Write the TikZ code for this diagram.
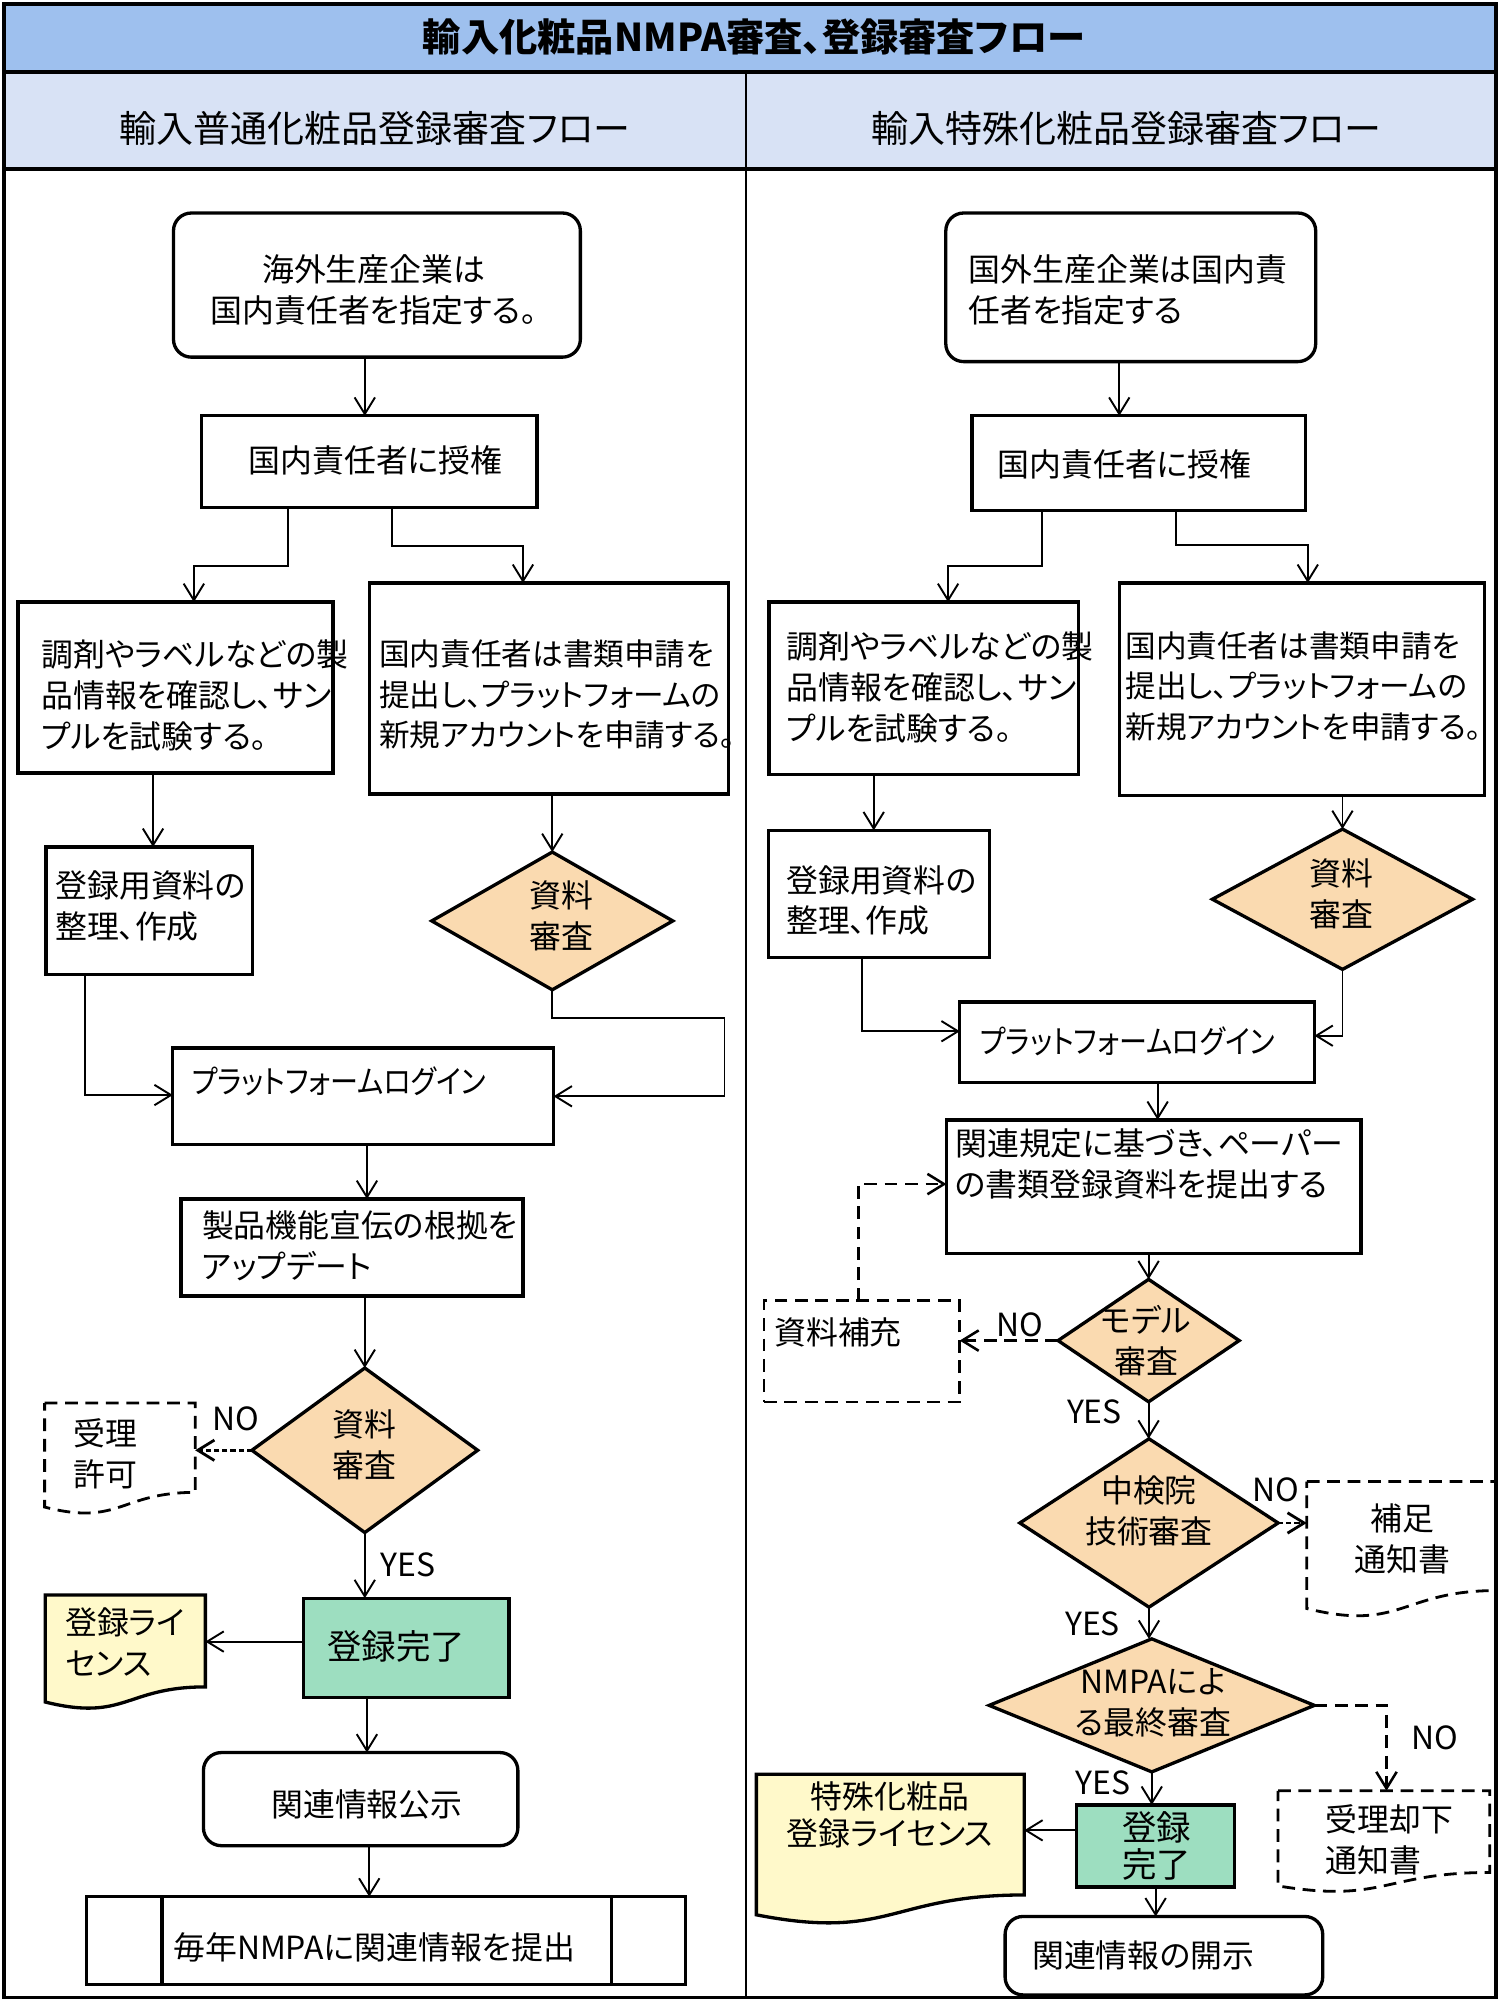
\documentclass[tikz,border=0pt]{standalone}
\usepackage{fontspec}
\setmainfont{Noto Sans CJK JP}[RawFeature=+palt]
\newfontfamily\narrowjp{Noto Sans CJK JP}[RawFeature=+palt, FakeStretch=0.88]
\usetikzlibrary{arrows.meta,shapes.geometric,calc}
\definecolor{titlebg}{RGB}{158,192,238}
\definecolor{headbg}{RGB}{216,226,245}
\definecolor{diafill}{RGB}{250,218,176}
\definecolor{greenfill}{RGB}{157,222,192}
\definecolor{docyellow}{RGB}{255,249,202}
\newcommand\mydocshape[2]{\path[#1] (#2.north west) -- (#2.north east) -- ($(#2.north east)!0.802!(#2.south east)$) .. controls ($(#2.north)!0.802!(#2.south)$) and ($(#2.north)!1.1075!(#2.south)$) .. ($(#2.north west)!0.934!(#2.south west)$) -- cycle;}
\tikzset{
  txt/.style={font=\fontsize{12.5pt}{16pt}\selectfont, inner sep=0pt},
  ltxt/.style={txt, align=left, anchor=west},
  ctxt/.style={txt, align=center},
  shp/.style={inner sep=0pt, outer sep=0pt, line width=1.3pt},
  boxs/.style={shp, draw, rectangle},
  rboxs/.style={boxs, rounded corners=7pt},
  dias/.style={shp, draw, diamond, fill=diafill},
  geo/.style={inner sep=0pt, outer sep=0pt, rectangle},
  dashbox/.style={line width=1.1pt, dash pattern=on 5pt off 3pt},
  arr/.style={line width=0.75pt, -{Straight Barb[length=6.5pt,width=8pt]}},
  darr/.style={arr, line width=1pt, dash pattern=on 5pt off 3pt},
  sarr/.style={arr, line width=1.1pt, dash pattern=on 2pt off 1.2pt},
  lab/.style={txt},
  smalltxt/.style={font=\fontsize{12pt}{16pt}\selectfont},
  narrowtxt/.style={font=\fontsize{12.5pt}{16pt}\narrowjp},
}
\begin{document}
\begin{tikzpicture}[x=0.5pt,y=-0.5pt]
\useasboundingbox (0,0) rectangle (1176,1568);
% frame and headers
\fill[titlebg] (3,3) rectangle (1173,56.5);
\fill[headbg] (3,56.5) rectangle (1173,132.5);
\draw[line width=1.5pt] (3,3) rectangle (1173,1566);
\draw[line width=1.5pt] (3,56.5) -- (1173,56.5);
\draw[line width=1.5pt] (3,132.5) -- (1173,132.5);
\draw[line width=1pt] (585,56.5) -- (585,1566);
\node[inner sep=0pt, font=\fontsize{15pt}{18pt}\selectfont\bfseries] (title) at (591,29) {輸入化粧品NMPA審査、登録審査フロー};
\node[inner sep=0pt, font=\fontsize{14.5pt}{18pt}\selectfont] (hl) at (294,101) {輸入普通化粧品登録審査フロー};
\node[inner sep=0pt, font=\fontsize{14.5pt}{18pt}\selectfont] (hr) at (883,101) {輸入特殊化粧品登録審査フロー};

% ---------------- left column ----------------
\node[rboxs, minimum width=159.5pt, minimum height=56.5pt] (L1) at (295.5,223.5) {};
\node[ctxt] (L1t) at (293,227) {海外生産企業は\\国内責任者を指定する。};
\node[boxs, minimum width=131.5pt, minimum height=36pt] (L2) at (289.5,362) {};
\node[ctxt] (L2t) at (294.5,361) {国内責任者に授権};
\node[boxs, minimum width=123.5pt, minimum height=67pt] (L3) at (137.5,539) {};
\node[ltxt] (L3t) at (32,545) {調剤やラベルなどの製\\品情報を確認し、サン\\プルを試験する。};
\node[boxs, minimum width=140.75pt, minimum height=82.75pt] (L4) at (430.25,539.75) {};
\node[ltxt, smalltxt] (L4t) at (297,544.5) {国内責任者は書類申請を\\提出し、プラットフォームの\\新規アカウントを申請する。};
\node[boxs, minimum width=81pt, minimum height=50pt] (L5) at (117,714) {};
\node[ltxt] (L5t) at (43,710) {登録用資料の\\整理、作成};
\node[dias, minimum width=94.5pt, minimum height=54pt] (L6) at (433,722) {};
\node[ctxt] (L6t) at (440,718) {資料\\審査};
\node[boxs, minimum width=149.25pt, minimum height=38pt] (L7) at (284.75,859.5) {};
\node[ltxt, narrowtxt] (L7t) at (150,848) {プラットフォームログイン};
\node[boxs, minimum width=134pt, minimum height=38pt] (L8) at (276,978) {};
\node[ltxt] (L8t) at (158,977) {製品機能宣伝の根拠を\\アップデート};
\node[dias, minimum width=88.5pt, minimum height=64.5pt] (L9) at (286,1137) {};
\node[ctxt] (L9t) at (286,1132.5) {資料\\審査};
\node[geo, minimum width=59pt, minimum height=43.65pt] (L10) at (94,1143.65) {};
\mydocshape{draw, dashbox}{L10}
\node[ltxt] (L10t) at (57,1140) {受理\\許可};
\node[boxs, fill=greenfill, minimum width=80.5pt, minimum height=39pt] (L11) at (318.5,1292) {};
\node[ctxt, font=\fontsize{13.5pt}{16pt}\selectfont] (L11t) at (310.5,1291) {登録完了};
\node[geo, minimum width=62.75pt, minimum height=44.9pt] (L12) at (98.25,1295.4) {};
\mydocshape{draw, fill=docyellow, line width=1.3pt}{L12}
\node[ltxt] (L12t) at (50.8,1287.5) {登録ライ\\センス};
\node[rboxs, minimum width=123.25pt, minimum height=36.5pt] (L13) at (282.75,1410.5) {};
\node[ctxt] (L13t) at (287.7,1415) {関連情報公示};
\node[boxs, minimum width=234.75pt, minimum height=34.5pt] (L14) at (302.75,1521.5) {};
\draw[line width=1.3pt] ([xshift=29.5pt]L14.north west) -- ([xshift=29.5pt]L14.south west);
\draw[line width=1.3pt] ([xshift=-29pt]L14.north east) -- ([xshift=-29pt]L14.south east);
\node[ctxt] (L14t) at (293.4,1527) {毎年NMPAに関連情報を提出};
\node[lab] (nL) at (185,1112) {NO};
\node[lab] (yL) at (320,1227) {YES};

% left connectors
\coordinate (cA) at (286,0);
\coordinate (k1) at (226,443.5);
\coordinate (k2) at (152,443.5);
\coordinate (k3) at (307,428);
\coordinate (k4) at (410,428);
\coordinate (cB) at (120,0);
\coordinate (k5) at (66.5,858.5);
\coordinate (k6) at (568,798);
\coordinate (cC) at (287.7,0);
\coordinate (k7) at (0,1287);
\coordinate (cE) at (289.5,0);
\draw[arr] (cA |- L1.south) -- (cA |- L2.north);
\draw[arr] (k1 |- L2.south) -- (k1) -- (k2) -- (k2 |- L3.north);
\draw[arr] (k3 |- L2.south) -- (k3) -- (k4) -- (k4 |- L4.north);
\draw[arr] (cB |- L3.south) -- (cB |- L5.north);
\draw[arr] (L6.north |- L4.south) -- (L6.north);
\draw[arr] (k5 |- L5.south) -- (k5) -- (k5 -| L7.west);
\draw[arr] (L6.south) -- (L6.south |- k6) -- (k6) -- (k6 |- L7.east) -- (L7.east);
\draw[arr] (cC |- L7.south) -- (cC |- L8.north);
\draw[arr] (L9.north |- L8.south) -- (L9.north);
\draw[sarr] (L9.west) -- (L9.west -| L10.east);
\draw[arr] (L9.south) -- (L9.south |- L11.north);
\draw[arr] (L11.west |- k7) -- (L12.east |- k7);
\draw[arr] (cC |- L11.south) -- (cC |- L13.north);
\draw[arr] (cE |- L13.south) -- (cE |- L14.north);

% ---------------- right column ----------------
\node[rboxs, minimum width=145pt, minimum height=58.25pt] (R1) at (886.5,225.25) {};
\node[ltxt] (R1t) at (759,227.3) {国外生産企業は国内責\\任者を指定する};
\node[boxs, minimum width=130.75pt, minimum height=37pt] (R2) at (892.75,363) {};
\node[ltxt] (R2t) at (781.7,364) {国内責任者に授権};
\node[boxs, minimum width=121.25pt, minimum height=67.5pt] (R3) at (724.25,539.5) {};
\node[ltxt] (R3t) at (616,539) {調剤やラベルなどの製\\品情報を確認し、サン\\プルを試験する。};
\node[boxs, minimum width=143.25pt, minimum height=83.25pt] (R4) at (1020.75,540.25) {};
\node[ltxt, smalltxt] (R4t) at (882,538) {国内責任者は書類申請を\\提出し、プラットフォームの\\新規アカウントを申請する。};
\node[boxs, minimum width=86.5pt, minimum height=49.75pt] (R5) at (689,700.75) {};
\node[ltxt] (R5t) at (616,706) {登録用資料の\\整理、作成};
\node[dias, minimum width=102pt, minimum height=55pt] (R6) at (1052.5,705) {};
\node[ctxt] (R6t) at (1052,700.7) {資料\\審査};
\node[boxs, minimum width=139pt, minimum height=31.5pt] (R7) at (891.5,817) {};
\node[ltxt, narrowtxt] (R7t) at (768,816) {プラットフォームログイン};
\node[boxs, minimum width=162.5pt, minimum height=52.5pt] (R8) at (904.5,930.5) {};
\node[ltxt] (R8t) at (748.5,912.5) {関連規定に基づき、ペーパー\\の書類登録資料を提出する};
\node[dias, minimum width=71pt, minimum height=48pt] (R9) at (900.5,1051) {};
\node[ctxt] (R9t) at (898.5,1051.2) {モデル\\審査};
\node[boxs, dashbox, minimum width=76.7pt, minimum height=39.75pt] (R10) at (675.7,1059.45) {};
\node[ltxt] (R10t) at (606.6,1045) {資料補充};
\node[dias, minimum width=101.25pt, minimum height=66pt] (R11) at (900.8,1194) {};
\node[ctxt] (R11t) at (900.8,1184.8) {中検院\\技術審査};
\node[geo, minimum width=74.25pt, minimum height=53.3pt] (R12) at (1098.75,1214.8) {};
\mydocshape{draw, dashbox}{R12}
\node[ctxt] (R12t) at (1099.5,1206.3) {補足\\通知書};
\node[dias, minimum width=127.5pt, minimum height=52.15pt] (R13) at (903,1337) {};
\node[ctxt] (R13t) at (904,1334.9) {NMPAによ\\る最終審査};
\node[geo, minimum width=83pt, minimum height=39.9pt] (R14) at (1085,1443.9) {};
\mydocshape{draw, dashbox}{R14}
\node[ltxt] (R14t) at (1038.8,1442.2) {受理却下\\通知書};
\node[boxs, fill=greenfill, minimum width=62pt, minimum height=32.15pt] (R15) at (906,1447.15) {};
\node[ctxt, font=\fontsize{13.5pt}{14.5pt}\selectfont] (R15t) at (906.8,1447) {登録\\完了};
\node[geo, minimum width=105pt, minimum height=59pt] (R16) at (698,1450) {};
\mydocshape{draw, fill=docyellow, line width=1.3pt}{R16}
\node[ctxt, font=\fontsize{12.5pt}{14.5pt}\selectfont] (R16t) at (697.8,1423) {特殊化粧品\\登録ライセンス};
\node[rboxs, minimum width=124.5pt, minimum height=30.75pt] (R17) at (912.5,1533.25) {};
\node[ltxt] (R17t) at (808.8,1532.7) {関連情報の開示};
\node[lab] (nR1) at (799.5,1038.7) {NO};
\node[lab] (yR1) at (858,1106.7) {YES};
\node[lab] (nR2) at (1000.5,1168.2) {NO};
\node[lab] (yR2) at (856.5,1273.2) {YES};
\node[lab] (nR3) at (1125,1362.4) {NO};
\node[lab] (yR3) at (865,1398) {YES};

% right connectors
\coordinate (cF) at (877.5,0);
\coordinate (k8) at (816.6,443.7);
\coordinate (k9) at (743.3,443.7);
\coordinate (k10) at (922,427.3);
\coordinate (k11) at (1025.3,427.3);
\coordinate (cG) at (685,0);
\coordinate (k12) at (676,808.5);
\coordinate (k13) at (1053,812);
\coordinate (cH) at (907.6,0);
\coordinate (k14) at (673,928.3);
\coordinate (k15) at (1087,1337);
\coordinate (k16) at (0,1435);
\draw[arr] (cF |- R1.south) -- (cF |- R2.north);
\draw[arr] (k8 |- R2.south) -- (k8) -- (k9) -- (k9 |- R3.north);
\draw[arr] (k10 |- R2.south) -- (k10) -- (k11) -- (k11 |- R4.north);
\draw[arr] (cG |- R3.south) -- (cG |- R5.north);
\draw[arr] (R6.north |- R4.south) -- (R6.north);
\draw[arr] (k12 |- R5.south) -- (k12) -- (k12 -| R7.west);
\draw[arr] (R6.south) -- (R6.south |- k13) -- (k13 -| R7.east);
\draw[arr] (cH |- R7.south) -- (cH |- R8.north);
\draw[arr] (R9.north |- R8.south) -- (R9.north);
\draw[darr] (R9.west) -- (R9.west -| R10.east);
\draw[darr] (k14 |- R10.north) -- (k14) -- (k14 -| R8.west);
\draw[arr] (R9.south) -- (R9.south |- R11.north);
\draw[sarr] (R11.east) -- (R11.east -| R12.west);
\draw[arr] (R11.south) -- (R11.south |- R13.north);
\draw[darr] (R13.east) -- (k15) -- (k15 |- R14.north);
\draw[arr] (R13.south) -- (R13.south |- R15.north);
\draw[arr] (R15.west |- k16) -- (R16.east |- k16);
\draw[arr] (R15.south) -- (R15.south |- R17.north);
\end{tikzpicture}
\end{document}
